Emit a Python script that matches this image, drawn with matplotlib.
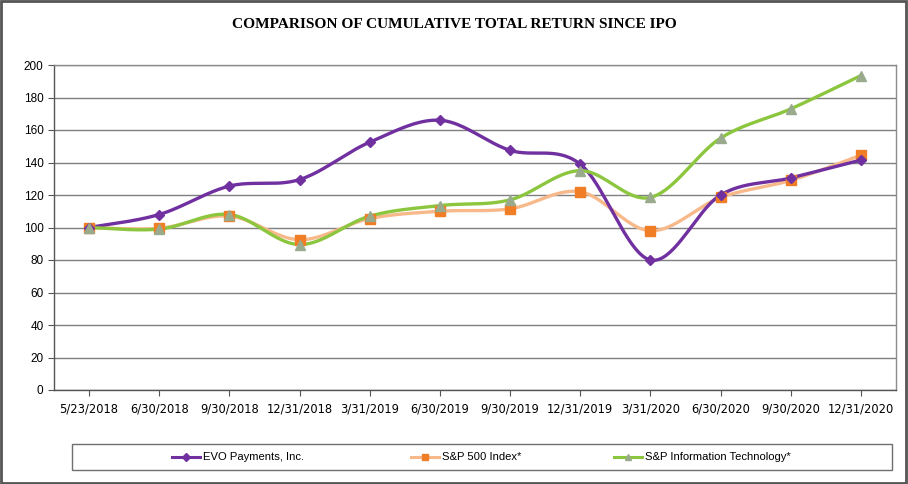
import numpy as np
import matplotlib
matplotlib.use("Agg")
import matplotlib.pyplot as plt
from matplotlib.patches import Rectangle
from matplotlib.lines import Line2D

dates = ["5/23/2018", "6/30/2018", "9/30/2018", "12/31/2018", "3/31/2019", "6/30/2019",
         "9/30/2019", "12/31/2019", "3/31/2020", "6/30/2020", "9/30/2020", "12/31/2020"]
evo = [100, 108, 125.5, 129.5, 152.5, 166, 147.5, 139, 80, 120, 130.5, 141.5]
sp500 = [100, 99.5, 107, 92.5, 105.5, 110, 111.5, 122, 98, 118.5, 129, 144.5]
spit = [100, 99, 108, 89.5, 107, 113.5, 117, 135, 118.5, 155, 173, 193.5]
series_names = ["EVO Payments, Inc.", "S&P 500 Index*", "S&P Information Technology*"]
yticks = [0, 20, 40, 60, 80, 100, 120, 140, 160, 180, 200]

W, H = 908, 484
fig = plt.figure(figsize=(W / 100, H / 100), dpi=100)
ax_l, ax_r, ax_t, ax_b = 54, 896, 65, 390
ax = fig.add_axes([ax_l / W, 1 - ax_b / H, (ax_r - ax_l) / W, (ax_b - ax_t) / H])

xs = np.arange(len(dates))
px_per_x = (ax_r - ax_l) / len(dates)
px_per_y = (ax_b - ax_t) / 200.0


def smooth(x, y, n=40):
    # Excel-like smoothed line: cubic Bezier with Catmull-Rom control points in pixel space
    X = np.asarray(x, float) * px_per_x
    Y = np.asarray(y, float) * px_per_y
    P = np.column_stack([X, Y])
    out = [P[0]]
    for i in range(len(P) - 1):
        p0 = P[i - 1] if i > 0 else P[i]
        p1 = P[i]
        p2 = P[i + 1]
        p3 = P[i + 2] if i + 2 < len(P) else P[i + 1]
        c1 = p1 + (p2 - p0) / 6.0
        c2 = p2 - (p3 - p1) / 6.0
        t = np.linspace(0, 1, n)[1:, None]
        seg = (1 - t) ** 3 * p1 + 3 * (1 - t) ** 2 * t * c1 + 3 * (1 - t) * t ** 2 * c2 + t ** 3 * p2
        out.extend(seg)
    out = np.array(out)
    return out[:, 0] / px_per_x, out[:, 1] / px_per_y


styles = [
    dict(line="#7030A0", mfc="#7030A0", marker="D", ms=5.5, lw=2.4),
    dict(line="#F8B98A", mfc="#F07E26", marker="s", ms=6.5, lw=2.4),
    dict(line="#8CC63F", mfc="#9AAA8C", marker="^", ms=7, lw=2.4),
]

for vals, st in zip([sp500, evo, spit], [styles[1], styles[0], styles[2]]):
    sx, sy = smooth(xs, vals)
    ax.plot(sx, sy, color=st["line"], lw=st["lw"], zorder=3, solid_capstyle="round")
for vals, st in zip([sp500, evo, spit], [styles[1], styles[0], styles[2]]):
    ax.plot(xs, vals, linestyle="none", marker=st["marker"], ms=st["ms"],
            mfc=st["mfc"], mec=st["mfc"], zorder=4)

ax.set_xlim(-0.5, len(dates) - 0.5)
ax.set_ylim(0, 200)
ax.set_yticks(yticks)
ax.set_xticks(xs)
ax.set_xticklabels(dates)
ax.yaxis.grid(True, color="#7f7f7f", lw=1.0)
ax.set_axisbelow(True)
for s in ["top", "right"]:
    ax.spines[s].set_color("#8c8c8c")
    ax.spines[s].set_linewidth(1.0)
for s in ["left", "bottom"]:
    ax.spines[s].set_color("#555555")
    ax.spines[s].set_linewidth(1.0)
ax.tick_params(axis="both", direction="out", length=4, width=0.8, color="#555555",
               labelsize=8.5, labelcolor="black")
ax.tick_params(axis="x", pad=5)
for lab in ax.get_yticklabels():
    lab.set_fontfamily("Liberation Sans")
for lab in ax.get_xticklabels():
    lab.set_fontfamily("DejaVu Sans")
    lab.set_fontsize(8.3)

fig.text(0.5, 1 - 24 / H, "COMPARISON OF CUMULATIVE TOTAL RETURN SINCE IPO",
         ha="center", va="center", fontsize=11.1, fontweight="bold",
         family="Liberation Serif")

# legend box
lb_l, lb_r, lb_t, lb_b = 72, 892, 444, 470
fig.patches.append(Rectangle((lb_l / W, 1 - lb_b / H), (lb_r - lb_l) / W, (lb_b - lb_t) / H,
                             transform=fig.transFigure, fill=False, ec="#6f6f6f", lw=1.0))
handle_x = [172, 411, 614]
ly = 1 - 457 / H
for name, st, hx in zip(series_names, styles, handle_x):
    x0, x1 = hx / W, (hx + 28) / W
    fig.add_artist(Line2D([x0, x1], [ly, ly], transform=fig.transFigure,
                          color=st["line"], lw=2.2))
    fig.add_artist(Line2D([(x0 + x1) / 2], [ly], transform=fig.transFigure,
                          marker=st["marker"], ms=st["ms"] * 0.7, mfc=st["mfc"], mec=st["mfc"],
                          linestyle="none"))
    fig.text((hx + 31) / W, ly, name, ha="left", va="center", fontsize=8.1,
             family="Liberation Sans")

# outer frame
fig.patches.append(Rectangle((0.001, 0.002), 0.997, 0.996, transform=fig.transFigure,
                             fill=False, ec="#555555", lw=2.0))

fig.savefig("out.png", dpi=100)
